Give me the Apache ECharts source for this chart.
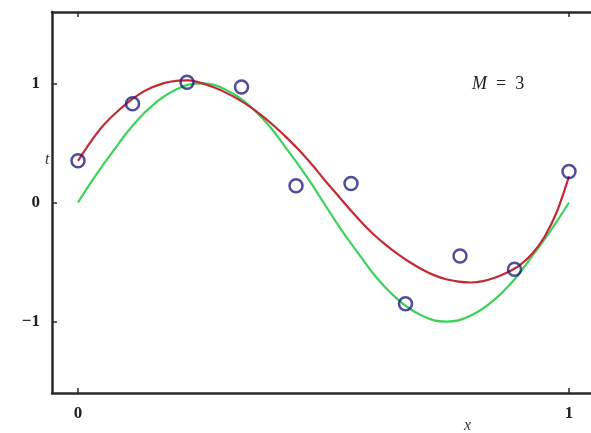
<!DOCTYPE html>
<html>
<head>
<meta charset="utf-8">
<script src="https://cdn.jsdelivr.net/npm/echarts@6/dist/echarts.min.js"></script>
<style>
html,body{margin:0;padding:0;background:#fff;}
#main{width:591px;height:433px;}
</style>
</head>
<body>
<div id="main"></div>
<script>
const curveX = [0, 0.025, 0.05, 0.075, 0.1, 0.125, 0.15, 0.175, 0.2, 0.225, 0.25, 0.275, 0.3, 0.325, 0.35, 0.375, 0.4, 0.425, 0.45, 0.475,
  0.5, 0.525, 0.55, 0.575, 0.6, 0.625, 0.65, 0.675, 0.7, 0.725, 0.75, 0.775, 0.8, 0.825, 0.85, 0.875, 0.9, 0.925, 0.95, 0.975, 1.0];
// green curve (true function) values
const greenT = [0, 0.16, 0.31, 0.45, 0.59, 0.71, 0.81, 0.89, 0.95, 0.99, 1.0, 0.99, 0.95, 0.89, 0.81, 0.71, 0.59, 0.45, 0.31, 0.16,
  0, -0.16, -0.31, -0.45, -0.59, -0.71, -0.81, -0.89, -0.95, -0.99, -1.0, -0.99, -0.95, -0.89, -0.81, -0.71, -0.59, -0.45, -0.31, -0.16, 0];
// red curve (M = 3 fit) values
const redT = [0.35, 0.505, 0.64, 0.745, 0.835, 0.91, 0.965, 1.003, 1.022, 1.025, 1.005, 0.97, 0.925, 0.87, 0.805, 0.727, 0.64, 0.545, 0.44, 0.325,
  0.2, 0.08, -0.04, -0.155, -0.26, -0.35, -0.43, -0.5, -0.56, -0.61, -0.645, -0.665, -0.672, -0.66, -0.63, -0.585, -0.525, -0.43, -0.29, -0.08, 0.22];
// observed data points
const pointX = [0, 0.111, 0.222, 0.333, 0.444, 0.556, 0.667, 0.778, 0.889, 1.0];
const pointT = [0.35, 0.83, 1.01, 0.97, 0.14, 0.16, -0.85, -0.45, -0.56, 0.26];
// tick labels
const xTicks = [0, 1];
const yTicks = [-1, 0, 1];

const zip = (a, b) => a.map((v, i) => [v, b[i]]);
const serif = '"Liberation Serif", "DejaVu Serif", serif';
const axisColor = '#2a2a2a';

const chart = echarts.init(document.getElementById('main'), null, {renderer: 'canvas'});
chart.setOption({
  animation: false,
  backgroundColor: '#ffffff',
  grid: {left: 52, top: 12, width: 539, height: 381},
  xAxis: [{
    type: 'value', min: -0.053, max: 1.0448, position: 'bottom',
    axisLine: {show: true, onZero: false, lineStyle: {color: axisColor, width: 2.5}},
    axisTick: {show: true, inside: true, length: 5, customValues: xTicks, lineStyle: {color: axisColor, width: 1.5}},
    axisLabel: {show: true, customValues: xTicks, margin: 12, fontFamily: serif, fontSize: 17, fontWeight: 'bold', color: '#222'},
    splitLine: {show: false}
  }, {
    type: 'value', min: -0.053, max: 1.0448, position: 'top',
    axisLine: {show: true, onZero: false, lineStyle: {color: axisColor, width: 2.5}},
    axisTick: {show: true, inside: true, length: 5, customValues: xTicks, lineStyle: {color: axisColor, width: 1.5}},
    axisLabel: {show: false},
    splitLine: {show: false}
  }],
  yAxis: [{
    type: 'value', min: -1.6, max: 1.6,
    axisLine: {show: true, onZero: false, lineStyle: {color: axisColor, width: 2.5}},
    axisTick: {show: true, inside: true, length: 5, customValues: yTicks, lineStyle: {color: axisColor, width: 1.5}},
    axisLabel: {show: true, customValues: yTicks, margin: 12, fontFamily: serif, fontSize: 17, fontWeight: 'bold', color: '#222',
      formatter: v => v < 0 ? '\u2212' + Math.abs(v) : String(v)},
    splitLine: {show: false}
  }],
  graphic: [
    {type: 'text', left: 45, top: 152, style: {text: 't', font: 'italic 16px ' + serif, fill: '#333'}},
    {type: 'text', left: 464, top: 418, style: {text: 'x', font: 'italic 16px ' + serif, fill: '#333'}},
    {type: 'text', left: 472, top: 75, style: {
      text: '{i|M}\u2002=\u20023',
      font: '18px ' + serif, fill: '#222',
      rich: {i: {fontStyle: 'italic', fontFamily: serif, fontSize: 18, fill: '#222'}}
    }}
  ],
  series: [
    {
      name: 'true', type: 'line', data: zip(curveX, greenT), smooth: 0.3, showSymbol: false,
      lineStyle: {color: '#3cd35a', width: 2.2}, z: 2
    },
    {
      name: 'fit', type: 'line', data: zip(curveX, redT), smooth: 0.3, showSymbol: false,
      lineStyle: {color: '#c42a34', width: 2.2}, z: 3
    },
    {
      name: 'data', type: 'scatter', data: zip(pointX, pointT), symbol: 'circle', symbolSize: 13,
      itemStyle: {color: 'rgba(255,255,255,0)', borderColor: '#24217f', borderWidth: 2.5}, z: 4
    }
  ]
});
</script>
</body>
</html>
